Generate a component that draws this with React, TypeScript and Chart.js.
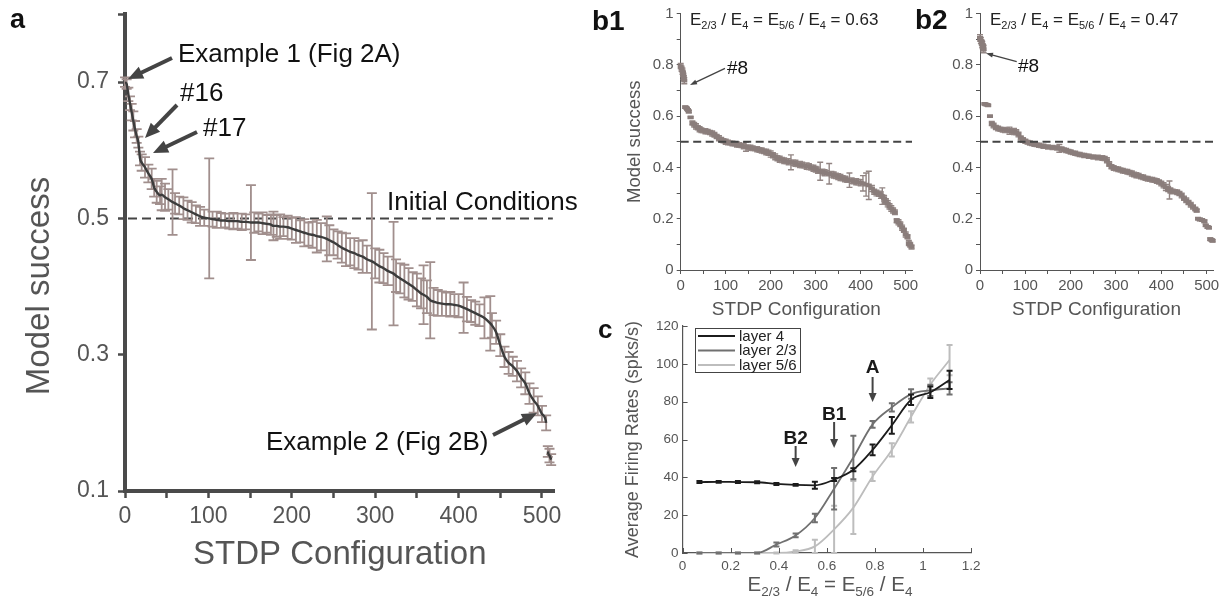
import React, { useEffect, useRef } from 'react';
import { Chart, registerables } from 'chart.js';

Chart.register(...registerables);

const FONT = '"Liberation Sans", Arial, Helvetica, sans-serif';
const TICK_COLOR = '#555555';

// ---------------- Panel a ----------------
const aConfig = [0, 2, 4, 6, 8, 10, 12, 14, 16, 18, 20, 24, 28, 32, 35, 38, 42, 44, 48, 52, 57, 60, 65, 70, 75, 80, 85, 90, 95, 101, 105, 110, 115, 120, 125, 130, 135, 140, 145, 151, 155, 160, 165, 170, 175, 178, 182, 186, 190, 195, 200, 205, 210, 215, 220, 225, 230, 235, 242, 245, 250, 255, 260, 265, 270, 275, 280, 285, 290, 296, 300, 305, 310, 315, 322, 325, 330, 335, 340, 345, 350, 355, 358, 362, 366, 370, 375, 380, 385, 390, 395, 400, 406, 410, 415, 420, 425, 431, 438, 440, 445, 450, 455, 460, 465, 470, 475, 480, 485, 490, 495, 500, 505, 507, 509, 511];
const aSuccess = [0.700, 0.697, 0.682, 0.669, 0.656, 0.643, 0.631, 0.621, 0.612, 0.588, 0.582, 0.575, 0.566, 0.558, 0.545, 0.539, 0.534, 0.535, 0.531, 0.528, 0.524, 0.522, 0.519, 0.515, 0.512, 0.509, 0.506, 0.503, 0.501, 0.500, 0.499, 0.498, 0.497, 0.497, 0.496, 0.496, 0.496, 0.495, 0.495, 0.494, 0.494, 0.494, 0.493, 0.492, 0.491, 0.489, 0.489, 0.488, 0.488, 0.487, 0.485, 0.483, 0.481, 0.479, 0.477, 0.476, 0.474, 0.473, 0.470, 0.468, 0.465, 0.461, 0.457, 0.454, 0.451, 0.449, 0.446, 0.444, 0.440, 0.437, 0.434, 0.430, 0.427, 0.423, 0.419, 0.416, 0.412, 0.408, 0.404, 0.400, 0.395, 0.390, 0.388, 0.385, 0.380, 0.378, 0.376, 0.375, 0.374, 0.374, 0.373, 0.372, 0.369, 0.367, 0.364, 0.361, 0.358, 0.354, 0.346, 0.343, 0.333, 0.314, 0.297, 0.288, 0.283, 0.276, 0.266, 0.258, 0.243, 0.233, 0.225, 0.213, 0.200, 0.158, 0.152, 0.146];
const aError = [0.007, 0.007, 0.010, 0.010, 0.012, 0.014, 0.012, 0.010, 0.008, 0.010, 0.012, 0.015, 0.013, 0.015, 0.013, 0.016, 0.013, 0.023, 0.020, 0.015, 0.048, 0.015, 0.013, 0.016, 0.014, 0.015, 0.013, 0.014, 0.012, 0.088, 0.011, 0.012, 0.011, 0.010, 0.011, 0.012, 0.011, 0.012, 0.011, 0.055, 0.015, 0.013, 0.016, 0.013, 0.015, 0.021, 0.016, 0.018, 0.014, 0.017, 0.016, 0.019, 0.016, 0.020, 0.017, 0.019, 0.024, 0.020, 0.033, 0.022, 0.019, 0.020, 0.022, 0.024, 0.020, 0.022, 0.021, 0.024, 0.020, 0.100, 0.022, 0.024, 0.022, 0.021, 0.076, 0.024, 0.022, 0.024, 0.023, 0.021, 0.024, 0.022, 0.043, 0.024, 0.056, 0.020, 0.019, 0.018, 0.017, 0.018, 0.016, 0.017, 0.037, 0.018, 0.016, 0.017, 0.016, 0.030, 0.040, 0.018, 0.017, 0.016, 0.015, 0.016, 0.014, 0.015, 0.014, 0.016, 0.015, 0.018, 0.014, 0.012, 0.011, 0.008, 0.010, 0.008];
const aTailStart = 507; // the last few configurations sit apart from the main curve
const aXTicks = [0, 50, 100, 150, 200, 250, 300, 350, 400, 450, 500];
const aXLabels = ['0', '', '100', '', '200', '', '300', '', '400', '', '500'];
const aYTicks = [0.1, 0.3, 0.5, 0.7, 0.8];
const aYLabels = ['0.1', '0.3', '0.5', '0.7', ''];
const aInitial = 0.5;

// ---------------- Panel b1 ----------------
const b1Config = [0, 2, 4, 5, 6, 7, 8, 10, 12, 14, 16, 18, 22, 26, 30, 34, 38, 42, 46, 50, 55, 60, 65, 70, 75, 80, 85, 90, 95, 100, 105, 110, 115, 120, 125, 130, 135, 140, 145, 150, 155, 160, 165, 170, 175, 180, 185, 190, 195, 200, 205, 210, 215, 220, 225, 230, 235, 240, 245, 250, 255, 260, 265, 270, 275, 280, 285, 290, 295, 300, 305, 310, 315, 320, 325, 330, 335, 340, 345, 350, 355, 360, 365, 370, 375, 380, 385, 390, 395, 400, 405, 412, 418, 425, 430, 435, 440, 445, 448, 452, 456, 460, 464, 468, 472, 476, 480, 484, 488, 492, 496, 500, 504, 507, 510, 513];
const b1Success = [0.795, 0.785, 0.775, 0.765, 0.755, 0.748, 0.738, 0.635, 0.633, 0.629, 0.624, 0.618, 0.595, 0.573, 0.566, 0.560, 0.555, 0.549, 0.545, 0.543, 0.541, 0.539, 0.536, 0.532, 0.527, 0.520, 0.514, 0.508, 0.504, 0.500, 0.497, 0.495, 0.493, 0.491, 0.489, 0.487, 0.485, 0.483, 0.481, 0.479, 0.477, 0.475, 0.473, 0.471, 0.468, 0.466, 0.463, 0.460, 0.457, 0.452, 0.447, 0.441, 0.436, 0.432, 0.429, 0.426, 0.424, 0.422, 0.420, 0.418, 0.416, 0.413, 0.411, 0.409, 0.407, 0.405, 0.403, 0.400, 0.397, 0.393, 0.389, 0.385, 0.382, 0.379, 0.377, 0.375, 0.373, 0.370, 0.367, 0.364, 0.361, 0.358, 0.355, 0.352, 0.350, 0.348, 0.346, 0.344, 0.342, 0.340, 0.338, 0.333, 0.330, 0.318, 0.305, 0.300, 0.297, 0.292, 0.288, 0.280, 0.268, 0.258, 0.248, 0.240, 0.232, 0.225, 0.192, 0.186, 0.178, 0.165, 0.155, 0.138, 0.130, 0.105, 0.098, 0.090];
const b1Error = [0.010, 0.010, 0.012, 0.010, 0.012, 0.010, 0.012, 0.004, 0.004, 0.005, 0.004, 0.005, 0.003, 0.008, 0.009, 0.010, 0.008, 0.010, 0.009, 0.008, 0.010, 0.009, 0.008, 0.010, 0.009, 0.008, 0.010, 0.009, 0.008, 0.010, 0.009, 0.008, 0.009, 0.008, 0.010, 0.009, 0.008, 0.010, 0.018, 0.009, 0.010, 0.009, 0.008, 0.010, 0.009, 0.010, 0.009, 0.011, 0.010, 0.012, 0.010, 0.011, 0.010, 0.012, 0.010, 0.011, 0.010, 0.012, 0.029, 0.011, 0.012, 0.010, 0.012, 0.011, 0.010, 0.012, 0.011, 0.010, 0.012, 0.011, 0.012, 0.035, 0.011, 0.012, 0.010, 0.040, 0.011, 0.012, 0.010, 0.011, 0.012, 0.010, 0.011, 0.010, 0.028, 0.011, 0.010, 0.012, 0.011, 0.012, 0.030, 0.045, 0.055, 0.012, 0.010, 0.011, 0.010, 0.012, 0.032, 0.011, 0.010, 0.012, 0.010, 0.011, 0.010, 0.009, 0.008, 0.010, 0.009, 0.010, 0.008, 0.010, 0.008, 0.010, 0.009, 0.008];

// ---------------- Panel b2 ----------------
const b2Config = [0, 2, 4, 5, 6, 7, 8, 10, 12, 14, 16, 18, 22, 26, 30, 35, 40, 45, 50, 55, 60, 65, 70, 75, 80, 85, 90, 95, 100, 105, 110, 115, 120, 125, 130, 135, 140, 145, 150, 155, 160, 165, 170, 175, 180, 185, 190, 195, 200, 205, 210, 215, 220, 225, 230, 235, 240, 245, 250, 255, 260, 265, 270, 275, 280, 285, 290, 295, 300, 305, 310, 315, 320, 325, 330, 335, 340, 345, 350, 355, 360, 365, 370, 375, 380, 385, 390, 395, 400, 405, 410, 415, 418, 420, 425, 430, 435, 440, 445, 450, 455, 460, 465, 470, 475, 478, 481, 485, 490, 495, 498, 502, 505, 508, 511, 513];
const b2Success = [0.905, 0.895, 0.886, 0.879, 0.872, 0.866, 0.861, 0.648, 0.646, 0.645, 0.644, 0.642, 0.600, 0.571, 0.563, 0.556, 0.552, 0.549, 0.547, 0.546, 0.545, 0.543, 0.542, 0.540, 0.537, 0.528, 0.515, 0.507, 0.502, 0.498, 0.495, 0.492, 0.490, 0.488, 0.486, 0.484, 0.482, 0.481, 0.480, 0.479, 0.478, 0.477, 0.476, 0.474, 0.472, 0.469, 0.466, 0.463, 0.460, 0.457, 0.455, 0.452, 0.450, 0.448, 0.446, 0.445, 0.443, 0.442, 0.441, 0.440, 0.439, 0.438, 0.437, 0.435, 0.428, 0.413, 0.403, 0.398, 0.395, 0.393, 0.390, 0.387, 0.385, 0.383, 0.380, 0.376, 0.372, 0.369, 0.367, 0.364, 0.362, 0.358, 0.356, 0.354, 0.352, 0.350, 0.347, 0.343, 0.337, 0.330, 0.322, 0.316, 0.312, 0.310, 0.306, 0.305, 0.303, 0.298, 0.290, 0.280, 0.272, 0.263, 0.254, 0.246, 0.238, 0.232, 0.200, 0.197, 0.195, 0.190, 0.174, 0.168, 0.165, 0.120, 0.117, 0.114];
const b2Error = [0.012, 0.012, 0.010, 0.012, 0.010, 0.012, 0.014, 0.003, 0.003, 0.003, 0.003, 0.003, 0.002, 0.008, 0.009, 0.008, 0.009, 0.008, 0.009, 0.010, 0.008, 0.014, 0.009, 0.012, 0.010, 0.009, 0.008, 0.009, 0.008, 0.007, 0.008, 0.007, 0.008, 0.007, 0.008, 0.007, 0.008, 0.007, 0.008, 0.007, 0.008, 0.007, 0.008, 0.015, 0.008, 0.007, 0.008, 0.007, 0.008, 0.007, 0.008, 0.007, 0.008, 0.007, 0.008, 0.007, 0.008, 0.007, 0.008, 0.007, 0.009, 0.008, 0.009, 0.008, 0.010, 0.009, 0.008, 0.009, 0.008, 0.009, 0.008, 0.009, 0.008, 0.009, 0.008, 0.010, 0.009, 0.010, 0.009, 0.008, 0.009, 0.008, 0.009, 0.008, 0.009, 0.008, 0.009, 0.008, 0.009, 0.010, 0.012, 0.010, 0.035, 0.010, 0.009, 0.008, 0.009, 0.008, 0.009, 0.008, 0.009, 0.008, 0.009, 0.008, 0.007, 0.006, 0.004, 0.005, 0.004, 0.005, 0.004, 0.005, 0.004, 0.005, 0.004, 0.004];

const bXTicks = [0, 50, 100, 150, 200, 250, 300, 350, 400, 450, 500];
const bXLabels = ['0', '', '100', '', '200', '', '300', '', '400', '', '500'];
const bYTicks = [0, 0.1, 0.2, 0.3, 0.4, 0.5, 0.6, 0.7, 0.8, 0.9, 1];
const bYLabels = ['0', '', '0.2', '', '0.4', '', '0.6', '', '0.8', '', '1'];
const bInitial = 0.5;
const b1Ratio = '0.63';
const b2Ratio = '0.47';

// ---------------- Panel c ----------------
const cRatio = [0.07, 0.15, 0.23, 0.31, 0.39, 0.47, 0.55, 0.63, 0.71, 0.79, 0.87, 0.95, 1.03, 1.11];
const cLayer4 = [37.5, 37.6, 37.5, 37.4, 36.5, 36.0, 35.8, 38.8, 44.0, 54.5, 67.5, 81.0, 85.0, 91.5];
const cLayer4Err = [0.5, 0.5, 0.5, 0.5, 0.5, 0.5, 1.8, 0.8, 0.8, 2.8, 4.4, 2.8, 3.0, 4.8];
const cLayer23 = [0, 0, 0, 0, 4.5, 9.3, 18.5, 34.0, 50.5, 68.0, 77.0, 84.0, 86.0, 87.0];
const cLayer23Err = [0.3, 0.3, 0.3, 0.3, 1.0, 1.0, 2.2, 11.0, 11.5, 1.8, 2.2, 2.5, 3.0, 3.2];
const cLayer56 = [0, 0, 0, 0, 0, 0.8, 3.5, 12.5, 24.0, 40.5, 54.5, 72.0, 89.0, 102.0];
const cLayer56Err = [0.2, 0.2, 0.2, 0.2, 0.3, 0.6, 3.5, 12.5, 14.0, 2.5, 3.5, 3.0, 3.2, 8.0];
const cLegend = ['layer 4', 'layer 2/3', 'layer 5/6'];
const cColors = ['#1c1c1c', '#707070', '#bdbdbd'];
const cXTicks = [0, 0.2, 0.4, 0.6, 0.8, 1, 1.2];
const cXLabels = ['0', '0.2', '0.4', '0.6', '0.8', '1', '1.2'];
const cYTicks = [0, 20, 40, 60, 80, 100, 120];
const cYLabels = ['0', '20', '40', '60', '80', '100', '120'];
const cMarkX = [0.47, 0.63, 0.79];
const cMarkLabels = ['B2', 'B1', 'A'];

// ---------------- helpers ----------------
function drawText(ctx: any, s: string, x: number, y: number, size: number, bold = false, align = 'left', color = '#111') {
  ctx.save();
  ctx.font = `${bold ? 'bold ' : ''}${size}px ${FONT}`;
  ctx.fillStyle = color;
  ctx.textAlign = align;
  ctx.textBaseline = 'alphabetic';
  ctx.fillText(s, x, y);
  ctx.restore();
}

function drawArrow(ctx: any, x1: number, y1: number, x2: number, y2: number, w: number, headLen: number, headW: number, color: string) {
  const ang = Math.atan2(y2 - y1, x2 - x1);
  const bx = x2 - headLen * Math.cos(ang);
  const by = y2 - headLen * Math.sin(ang);
  ctx.save();
  ctx.strokeStyle = color;
  ctx.fillStyle = color;
  ctx.lineWidth = w;
  ctx.lineCap = 'butt';
  ctx.beginPath();
  ctx.moveTo(x1, y1);
  ctx.lineTo(bx + Math.cos(ang), by + Math.sin(ang));
  ctx.stroke();
  ctx.beginPath();
  ctx.moveTo(x2, y2);
  ctx.lineTo(bx + (headW / 2) * Math.sin(ang), by - (headW / 2) * Math.cos(ang));
  ctx.lineTo(bx - (headW / 2) * Math.sin(ang), by + (headW / 2) * Math.cos(ang));
  ctx.closePath();
  ctx.fill();
  ctx.restore();
}

function ratioParts(suffix: string): [string, boolean][] {
  const parts: [string, boolean][] = [
    ['E', false], ['2/3', true], [' / E', false], ['4', true],
    [' = E', false], ['5/6', true], [' / E', false], ['4', true],
  ];
  if (suffix) parts.push([' = ' + suffix, false]);
  return parts;
}

function drawRich(ctx: any, parts: [string, boolean][], x: number, y: number, size: number, subSize: number, align: string, color: string) {
  ctx.save();
  ctx.fillStyle = color;
  ctx.textAlign = 'left';
  ctx.textBaseline = 'alphabetic';
  let total = 0;
  for (const [t, sub] of parts) {
    ctx.font = `${sub ? subSize : size}px ${FONT}`;
    total += ctx.measureText(t).width;
  }
  let cx = align === 'center' ? x - total / 2 : x;
  for (const [t, sub] of parts) {
    ctx.font = `${sub ? subSize : size}px ${FONT}`;
    ctx.fillText(t, cx, sub ? y + size * 0.26 : y);
    cx += ctx.measureText(t).width;
  }
  ctx.restore();
}

const errorBarPlugin = {
  id: 'errorBars',
  beforeDatasetDraw(chart: any, args: any) {
    const ds = chart.data.datasets[args.index];
    const err = ds.errors;
    if (!err) return;
    const ctx = chart.ctx;
    const xs = chart.scales.x;
    const ys = chart.scales.y;
    const half = ds.capWidth / 2;
    ctx.save();
    ctx.strokeStyle = ds.errorColor;
    ctx.lineWidth = ds.errorWidth;
    ctx.beginPath();
    ds.data.forEach((p: any, i: number) => {
      const px = xs.getPixelForValue(p.x);
      const lo = ys.getPixelForValue(p.y - err[i]);
      const hi = ys.getPixelForValue(p.y + err[i]);
      ctx.moveTo(px, lo); ctx.lineTo(px, hi);
      ctx.moveTo(px - half, lo); ctx.lineTo(px + half, lo);
      ctx.moveTo(px - half, hi); ctx.lineTo(px + half, hi);
    });
    ctx.stroke();
    if (ds.markWidth) {
      ctx.strokeStyle = ds.markColor;
      ctx.lineWidth = ds.markWidth;
      ctx.beginPath();
      ds.data.forEach((p: any) => {
        const px = xs.getPixelForValue(p.x);
        const py = ys.getPixelForValue(p.y);
        ctx.moveTo(px - ds.markLen / 2, py); ctx.lineTo(px + ds.markLen / 2, py);
      });
      ctx.stroke();
    }
    ctx.restore();
  },
};

function fixedTicks(values: number[]) {
  return (s: any) => { s.ticks = values.map((v) => ({ value: v })); };
}

function fitSize(prop: 'width' | 'height', size: number) {
  return (s: any) => {
    s[prop] = size;
    s.paddingTop = 0; s.paddingBottom = 0; s.paddingLeft = 0; s.paddingRight = 0;
  };
}

// ---------------- chart configs ----------------
function configA() {
  return {
    type: 'scatter',
    data: {
      datasets: [{
        data: aConfig.map((c, i) => ({ x: c, y: aSuccess[i] })),
        showLine: true,
        borderColor: '#3c3c3c',
        borderWidth: 2.4,
        pointRadius: 0,
        cubicInterpolationMode: 'monotone',
        segment: { borderColor: (sc: any) => (sc.p1.parsed.x === aTailStart ? 'rgba(0,0,0,0)' : undefined) },
        errors: aError,
        errorColor: '#a18f8d',
        errorWidth: 1.8,
        capWidth: 10,
      }],
    },
    options: {
      animation: false,
      responsive: false,
      devicePixelRatio: 1,
      layout: { padding: { left: 0, top: 14, right: 45.5, bottom: 0 } },
      plugins: { legend: { display: false }, tooltip: { enabled: false } },
      scales: {
        x: {
          type: 'linear', min: 0, max: 515,
          afterFit: fitSize('height', 114),
          afterBuildTicks: fixedTicks(aXTicks),
          border: { display: true, width: 4, color: '#4a4a4a' },
          grid: { drawOnChartArea: false, drawTicks: true, tickLength: 7, tickWidth: 2.5, tickColor: '#4a4a4a' },
          ticks: { callback: (_v: any, i: number) => aXLabels[i], font: { family: FONT, size: 23 }, color: TICK_COLOR, padding: 5, maxRotation: 0, autoSkip: false },
          title: { display: true, text: 'STDP Configuration', font: { family: FONT, size: 33 }, color: TICK_COLOR, padding: { top: 0, bottom: 30 } },
        },
        y: {
          type: 'linear', min: 0.1, max: 0.8,
          afterFit: fitSize('width', 125),
          afterBuildTicks: fixedTicks(aYTicks),
          border: { display: true, width: 4, color: '#4a4a4a' },
          grid: { drawOnChartArea: false, drawTicks: true, tickLength: 7, tickWidth: 2.5, tickColor: '#4a4a4a' },
          ticks: { callback: (_v: any, i: number) => aYLabels[i], font: { family: FONT, size: 23 }, color: TICK_COLOR, padding: 9, autoSkip: false },
          title: { display: false, text: 'Model success' },
        },
      },
    },
    plugins: [errorBarPlugin, {
      id: 'annotA',
      beforeDatasetsDraw(chart: any) {
        const ctx = chart.ctx;
        const y = chart.scales.y.getPixelForValue(aInitial);
        ctx.save();
        ctx.strokeStyle = '#444';
        ctx.lineWidth = 2;
        ctx.setLineDash([9, 5]);
        ctx.beginPath();
        ctx.moveTo(chart.chartArea.left + 3, y);
        ctx.lineTo(chart.scales.x.getPixelForValue(513), y);
        ctx.stroke();
        ctx.restore();
      },
      afterDraw(chart: any) {
        const ctx = chart.ctx;
        ctx.save();
        ctx.translate(40, 286);
        ctx.rotate(-Math.PI / 2);
        ctx.font = `33px ${FONT}`;
        ctx.fillStyle = TICK_COLOR;
        ctx.textAlign = 'center';
        ctx.textBaseline = 'middle';
        ctx.fillText('Model success', 0, 0);
        ctx.restore();
        drawText(ctx, 'a', 10, 27.5, 27, true);
        drawText(ctx, 'Example 1 (Fig 2A)', 178, 61.5, 26);
        drawArrow(ctx, 172, 58, 128, 79, 4, 15, 13, '#444');
        drawText(ctx, '#16', 180, 100.5, 26);
        drawArrow(ctx, 177, 105, 145, 138, 4, 15, 13, '#444');
        drawText(ctx, '#17', 203, 135.5, 26);
        drawArrow(ctx, 197, 132, 153, 153, 4, 15, 13, '#444');
        drawText(ctx, 'Initial Conditions', 387, 210, 26);
        drawText(ctx, 'Example 2 (Fig 2B)', 266, 450, 26);
        drawArrow(ctx, 493, 435, 537, 413, 4, 15, 13, '#444');
      },
    }],
  };
}

function configB(conf: number[], vals: number[], errs: number[], o: any) {
  const ox = o.ox;
  return {
    type: 'scatter',
    data: {
      datasets: [{
        data: conf.map((c, i) => ({ x: c, y: vals[i] })),
        showLine: false,
        pointRadius: 0,
        errors: errs,
        errorColor: '#928583',
        errorWidth: 1.4,
        capWidth: 6,
        markWidth: 3.8,
        markLen: 6,
        markColor: '#8a7d7b',
      }],
    },
    options: {
      animation: false,
      responsive: false,
      devicePixelRatio: 1,
      layout: { padding: { left: 0, top: 13.5, right: o.padRight, bottom: 0 } },
      plugins: { legend: { display: false }, tooltip: { enabled: false } },
      scales: {
        x: {
          type: 'linear', min: 0, max: 514,
          afterFit: fitSize('height', 51),
          afterBuildTicks: fixedTicks(bXTicks),
          border: { display: true, width: 1, color: '#555' },
          grid: { drawOnChartArea: false, drawTicks: true, tickLength: 4, tickWidth: 1, tickColor: '#555' },
          ticks: { callback: (_v: any, i: number) => bXLabels[i], font: { family: FONT, size: 15 }, color: TICK_COLOR, padding: 3, maxRotation: 0, autoSkip: false },
          title: { display: true, text: 'STDP Configuration', font: { family: FONT, size: 19 }, color: TICK_COLOR, padding: { top: 0, bottom: 0 } },
        },
        y: {
          type: 'linear', min: 0, max: 1,
          afterFit: fitSize('width', o.axisLeft),
          afterBuildTicks: fixedTicks(bYTicks),
          border: { display: true, width: 1, color: '#555' },
          grid: { drawOnChartArea: false, drawTicks: true, tickLength: 4, tickWidth: 1, tickColor: '#555' },
          ticks: { callback: (_v: any, i: number) => bYLabels[i], font: { family: FONT, size: 15 }, color: TICK_COLOR, padding: 3, autoSkip: false },
          title: { display: o.showYTitle, text: 'Model success', font: { family: FONT, size: 18.5 }, color: TICK_COLOR, padding: { top: o.yTitlePad, bottom: 0 } },
        },
      },
    },
    plugins: [errorBarPlugin, {
      id: 'annotB',
      afterDatasetsDraw(chart: any) {
        const ctx = chart.ctx;
        const y = chart.scales.y.getPixelForValue(bInitial);
        ctx.save();
        ctx.strokeStyle = '#444';
        ctx.lineWidth = 2;
        ctx.setLineDash([8, 4.5]);
        ctx.beginPath();
        ctx.moveTo(chart.chartArea.left, y);
        ctx.lineTo(chart.chartArea.right, y);
        ctx.stroke();
        ctx.restore();
      },
      afterDraw(chart: any) {
        const ctx = chart.ctx;
        drawText(ctx, o.panel, o.panelX - ox, o.panelY, 28, true);
        drawRich(ctx, ratioParts(o.ratio), o.titleX - ox, 24.5, 17, 11, 'left', '#222');
        drawText(ctx, '#8', o.hashX - ox, o.hashY, 19, false, 'left', '#111');
        drawArrow(ctx, o.arrow[0] - ox, o.arrow[1], o.arrow[2] - ox, o.arrow[3], 1.3, 7, 5, '#444');
      },
    }],
  };
}

function configC() {
  const ox = 590, oy = 300;
  const series = [
    { vals: cLayer4, errs: cLayer4Err, color: cColors[0], label: cLegend[0] },
    { vals: cLayer23, errs: cLayer23Err, color: cColors[1], label: cLegend[1] },
    { vals: cLayer56, errs: cLayer56Err, color: cColors[2], label: cLegend[2] },
  ];
  return {
    type: 'scatter',
    data: {
      datasets: series.map((s) => ({
        label: s.label,
        data: cRatio.map((r, i) => ({ x: r, y: s.vals[i] })),
        showLine: true,
        borderColor: s.color,
        borderWidth: 1.8,
        pointRadius: 0,
        cubicInterpolationMode: 'monotone',
        errors: s.errs,
        errorColor: s.color,
        errorWidth: 2,
        capWidth: 6,
      })),
    },
    options: {
      animation: false,
      responsive: false,
      devicePixelRatio: 1,
      layout: { padding: { left: 0, top: 26, right: 38.8, bottom: 0 } },
      plugins: { legend: { display: false }, tooltip: { enabled: false } },
      scales: {
        x: {
          type: 'linear', min: 0, max: 1.2,
          afterFit: fitSize('height', 52),
          afterBuildTicks: fixedTicks(cXTicks),
          border: { display: true, width: 1.2, color: '#555' },
          grid: { drawOnChartArea: false, drawTicks: false },
          ticks: { callback: (_v: any, i: number) => cXLabels[i], font: { family: FONT, size: 13.5 }, color: TICK_COLOR, padding: 5, maxRotation: 0, autoSkip: false },
          title: { display: false },
        },
        y: {
          type: 'linear', min: 0, max: 120,
          afterFit: fitSize('width', 92.6),
          afterBuildTicks: fixedTicks(cYTicks),
          border: { display: true, width: 1.2, color: '#555' },
          grid: { drawOnChartArea: false, drawTicks: false },
          ticks: { callback: (_v: any, i: number) => cYLabels[i], font: { family: FONT, size: 13.5 }, color: TICK_COLOR, padding: 4, autoSkip: false },
          title: { display: true, text: 'Average Firing Rates (spks/s)', font: { family: FONT, size: 18 }, color: TICK_COLOR, padding: { top: 32, bottom: 0 } },
        },
      },
    },
    plugins: [errorBarPlugin, {
      id: 'annotC',
      afterDraw(chart: any) {
        const ctx = chart.ctx;
        const xs = chart.scales.x;
        const ys = chart.scales.y;
        const { left, bottom } = chart.chartArea;
        ctx.save();
        ctx.strokeStyle = '#555';
        ctx.lineWidth = 1;
        ctx.beginPath();
        cXTicks.forEach((v) => { const px = Math.round(xs.getPixelForValue(v)) + 0.5; ctx.moveTo(px, bottom); ctx.lineTo(px, bottom - 5); });
        cYTicks.forEach((v) => { const py = Math.round(ys.getPixelForValue(v)) + 0.5; ctx.moveTo(left, py); ctx.lineTo(left + 5, py); });
        ctx.stroke();
        ctx.restore();
        ctx.save();
        ctx.fillStyle = '#fff';
        ctx.fillRect(695.5 - ox, 328.5 - oy, 105, 44);
        ctx.strokeStyle = '#444';
        ctx.lineWidth = 1;
        ctx.strokeRect(695.5 - ox, 328.5 - oy, 105, 44);
        const rows = [336, 350.5, 365];
        cLegend.forEach((lab, i) => {
          ctx.strokeStyle = cColors[i];
          ctx.lineWidth = 2;
          ctx.beginPath();
          ctx.moveTo(698 - ox, rows[i] - oy);
          ctx.lineTo(735 - ox, rows[i] - oy);
          ctx.stroke();
          ctx.font = `15px ${FONT}`;
          ctx.fillStyle = '#222';
          ctx.textBaseline = 'middle';
          ctx.textAlign = 'left';
          ctx.fillText(lab, 739 - ox, rows[i] - oy + 0.5);
        });
        ctx.restore();
        const textBase = [443.5, 420, 373];
        const arrowY = [[446, 467], [422, 448], [377, 402]];
        cMarkX.forEach((v, i) => {
          const px = xs.getPixelForValue(v);
          drawText(ctx, cMarkLabels[i], px, textBase[i] - oy, 19, true, 'center', '#1a1a1a');
          drawArrow(ctx, px, arrowY[i][0] - oy, px, arrowY[i][1] - oy, 2, 9, 8, '#444');
        });
        drawText(ctx, 'c', 598 - ox, 338 - oy, 26, true);
        drawRich(ctx, ratioParts(''), 830 - ox, 591 - oy, 20.5, 13.5, 'center', '#555');
      },
    }],
  };
}

function ChartCanvas({ left, top, width, height, make }: any) {
  const ref = useRef<HTMLCanvasElement>(null);
  useEffect(() => {
    const chart = new Chart(ref.current as HTMLCanvasElement, make());
    return () => chart.destroy();
  }, []);
  return (
    <canvas
      ref={ref}
      width={width}
      height={height}
      style={{ position: 'absolute', left, top, width, height }}
    />
  );
}

export default function App() {
  return (
    <div style={{ position: 'fixed', left: 0, top: 0, width: 1225, height: 605, background: '#fff', overflow: 'hidden' }}>
      <ChartCanvas left={0} top={0} width={600} height={605} make={configA} />
      <ChartCanvas
        left={585} top={0} width={333} height={321}
        make={() => configB(b1Config, b1Success, b1Error, {
          ox: 585, padRight: 6, axisLeft: 95.7, showYTitle: true, yTitlePad: 39,
          panel: 'b1', panelX: 592, panelY: 30, ratio: b1Ratio, titleX: 690,
          hashX: 727, hashY: 74, arrow: [725, 68.3, 690, 85],
        })}
      />
      <ChartCanvas
        left={900} top={0} width={325} height={321}
        make={() => configB(b2Config, b2Success, b2Error, {
          ox: 900, padRight: 12, axisLeft: 80, showYTitle: false, yTitlePad: 0,
          panel: 'b2', panelX: 915, panelY: 28.5, ratio: b2Ratio, titleX: 990,
          hashX: 1018, hashY: 71.7, arrow: [1016.7, 61.7, 986, 53.3],
        })}
      />
      <ChartCanvas left={590} top={300} width={420} height={305} make={configC} />
    </div>
  );
}
